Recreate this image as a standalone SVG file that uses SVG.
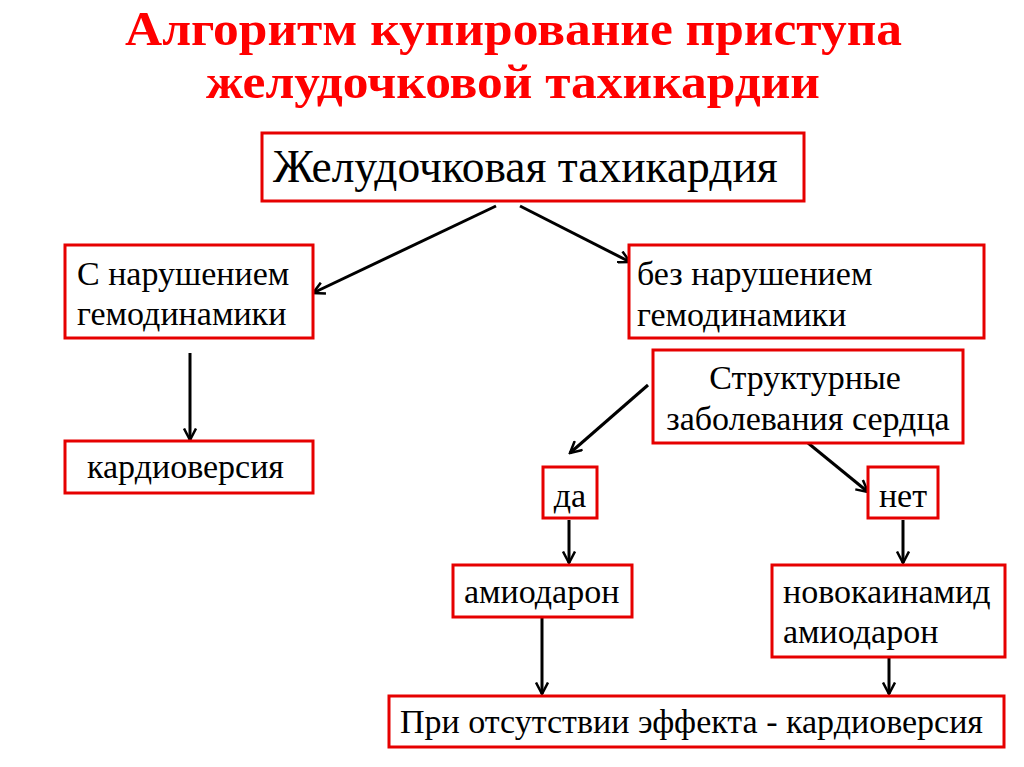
<svg xmlns="http://www.w3.org/2000/svg" width="1024" height="767" viewBox="0 0 1024 767">
<style>
.box{fill:#fff;stroke:#e60000;stroke-width:3}
.t{font-size:34px;fill:#000}
.title{font-size:49px;font-weight:bold;fill:#f00}
.c{stroke:#000;stroke-width:3;fill:none}
</style>
<defs>
<marker id="arr" viewBox="0 0 14 14" refX="12.5" refY="7" markerWidth="14" markerHeight="14" markerUnits="userSpaceOnUse" orient="auto">
<path d="M1,1 L12.5,7 L1,13" fill="none" stroke="#000" stroke-width="2.5"/>
</marker>
</defs>
<rect width="1024" height="767" fill="#fff"/>
<g font-family="'Liberation Serif', 'Times New Roman', 'DejaVu Serif', serif">
<g id="title">
<text class="title" x="125" y="44.5" textLength="777" lengthAdjust="spacingAndGlyphs">Алгоритм купирование приступа</text>
<text class="title" x="206" y="97.5" textLength="614" lengthAdjust="spacingAndGlyphs">желудочковой тахикардии</text>
</g>
<g id="connectors">
<line class="c" x1="496" y1="206" x2="313" y2="293" marker-end="url(#arr)"/>
<line class="c" x1="520" y1="206" x2="630" y2="262" marker-end="url(#arr)"/>
<line class="c" x1="190" y1="353" x2="190" y2="440" marker-end="url(#arr)"/>
<line class="c" x1="648" y1="385" x2="570" y2="453" marker-end="url(#arr)"/>
<line class="c" x1="808" y1="443" x2="868" y2="492" marker-end="url(#arr)"/>
<line class="c" x1="569" y1="520" x2="569" y2="563" marker-end="url(#arr)"/>
<line class="c" x1="903" y1="520" x2="903" y2="563" marker-end="url(#arr)"/>
<line class="c" x1="542" y1="618" x2="542" y2="694" marker-end="url(#arr)"/>
<line class="c" x1="889" y1="658" x2="889" y2="694" marker-end="url(#arr)"/>
</g>
<g id="n_vt">
<rect class="box" x="262" y="133" width="542" height="68"/>
<text class="t" x="273" y="182" style="font-size:45.5px">Желудочковая тахикардия</text>
</g>
<g id="n_with">
<rect class="box" x="65" y="245" width="248" height="93"/>
<text class="t" x="77" y="285">С нарушением</text>
<text class="t" x="77" y="325">гемодинамики</text>
</g>
<g id="n_cardio1">
<rect class="box" x="65" y="441" width="248" height="52"/>
<text class="t" x="87" y="478">кардиоверсия</text>
</g>
<g id="n_without">
<rect class="box" x="629" y="245" width="355" height="93"/>
<text class="t" x="637" y="285">без нарушением</text>
<text class="t" x="637" y="326">гемодинамики</text>
</g>
<g id="n_struct">
<rect class="box" x="653" y="350" width="310" height="93"/>
<text class="t" x="805" y="389" text-anchor="middle">Структурные</text>
<text class="t" x="808" y="430" text-anchor="middle">заболевания сердца</text>
</g>
<g id="n_yes">
<rect class="box" x="543" y="467" width="54" height="51"/>
<text class="t" x="570" y="507" text-anchor="middle">да</text>
</g>
<g id="n_no">
<rect class="box" x="868" y="467" width="70" height="51"/>
<text class="t" x="903" y="507" text-anchor="middle">нет</text>
</g>
<g id="n_amio">
<rect class="box" x="453" y="565" width="179" height="52"/>
<text class="t" x="464" y="603">амиодарон</text>
</g>
<g id="n_novo">
<rect class="box" x="772" y="565" width="233" height="92"/>
<text class="t" x="783" y="603">новокаинамид</text>
<text class="t" x="783" y="643">амиодарон</text>
</g>
<g id="n_final">
<rect class="box" x="389" y="696" width="615" height="51"/>
<text class="t" x="400" y="733">При отсутствии эффекта - кардиоверсия</text>
</g>
</g>
</svg>
